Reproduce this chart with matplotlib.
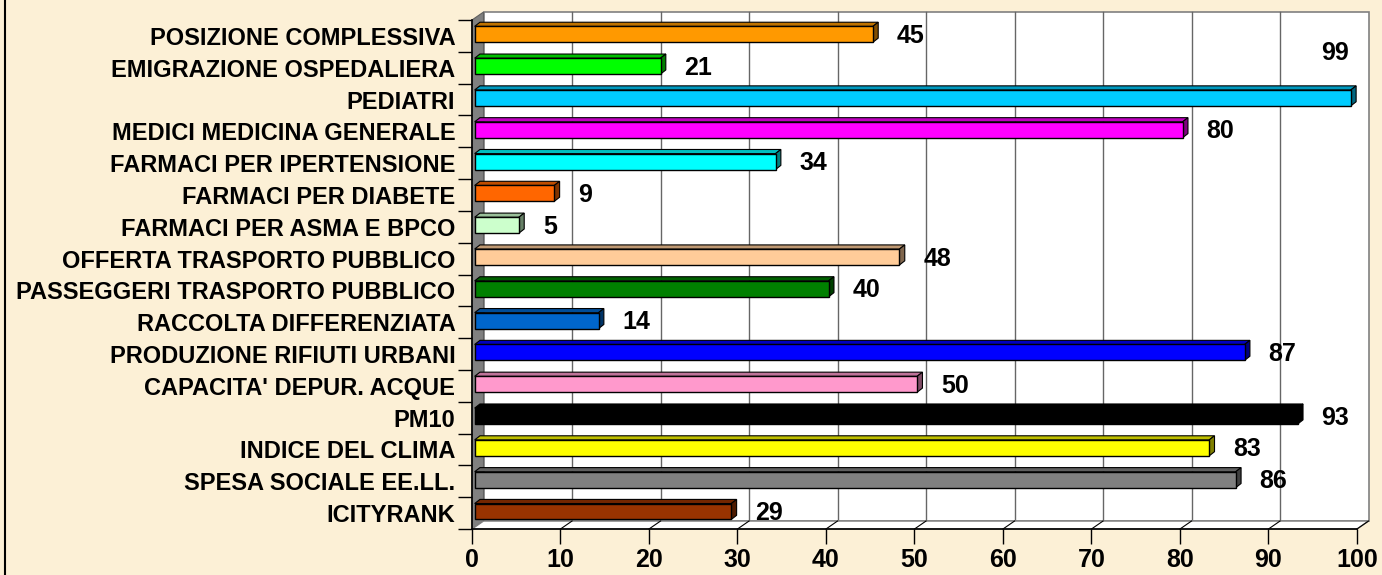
import matplotlib.pyplot as plt
from matplotlib.patches import Polygon, Rectangle
from matplotlib.colors import to_rgb

# dati (dall'alto verso il basso come nel grafico)
categories = [
    "POSIZIONE COMPLESSIVA", "EMIGRAZIONE OSPEDALIERA", "PEDIATRI",
    "MEDICI MEDICINA GENERALE", "FARMACI PER IPERTENSIONE", "FARMACI PER DIABETE",
    "FARMACI PER ASMA E BPCO", "OFFERTA TRASPORTO PUBBLICO",
    "PASSEGGERI TRASPORTO PUBBLICO", "RACCOLTA DIFFERENZIATA",
    "PRODUZIONE RIFIUTI URBANI", "CAPACITA' DEPUR. ACQUE", "PM10",
    "INDICE DEL CLIMA", "SPESA SOCIALE EE.LL.", "ICITYRANK",
]
values = [45, 21, 99, 80, 34, 9, 5, 48, 40, 14, 87, 50, 93, 83, 86, 29]
colors = [
    "#FF9900", "#00FF00", "#00CCFF", "#FF00FF", "#00FFFF", "#FF6600",
    "#CCFFCC", "#FFCC99", "#008000", "#0066CC", "#0000FF", "#FF99CC",
    "#000000", "#FFFF00", "#808080", "#993300",
]
xticks = list(range(0, 101, 10))

plt.rcParams['font.family'] = ['Liberation Sans', 'DejaVu Sans']
plt.rcParams['font.weight'] = 'bold'

fig = plt.figure(figsize=(13.82, 5.75), dpi=100)
fig.patch.set_facecolor('#FCF0D6')
ax = fig.add_axes([472 / 1382, 46 / 575, 885 / 1382, 509 / 575])
ax.set_facecolor('none')

n = len(categories)
ypos = [n - 1 - i for i in range(n)]
ax.set_xlim(0, 100)
ax.set_ylim(-0.5, n - 0.5)

# profondità 3D (in unità dati)
dx, dy = 1.3, 0.25
bdx, bdy = 0.6, 0.13
top = n - 0.5
bot = -0.5

# parete di fondo
ax.add_patch(Rectangle((dx, bot + dy), 100, n, facecolor='white',
                       edgecolor='#808080', lw=1.2, clip_on=False, zorder=0))
for t in xticks[1:-1]:
    ax.plot([t + dx, t + dx], [bot + dy, top + dy], color='#666666', lw=1,
            clip_on=False, zorder=0.5)
# parete sinistra
ax.add_patch(Polygon([(0, bot), (dx, bot + dy), (dx, top + dy), (0, top)],
                     closed=True, facecolor='#808080', edgecolor='#606060',
                     lw=0.8, clip_on=False, zorder=0.6))
# pavimento
ax.add_patch(Polygon([(0, bot), (100, bot), (100 + dx, bot + dy), (dx, bot + dy)],
                     closed=True, facecolor='white', edgecolor='#808080',
                     lw=1, clip_on=False, zorder=0.6))
for t in xticks[1:]:
    ax.plot([t, t + dx], [bot, bot + dy], color='black', lw=0.8,
            clip_on=False, zorder=0.7)


def darker(c, f):
    r, g, b = to_rgb(c)
    return (r * f, g * f, b * f)


h = 0.5
x0 = 0.3
for y, v, c in zip(ypos, values, colors):
    yb, yt = y - h / 2 + 0.05, y + h / 2 + 0.05
    xe = v + x0
    ax.add_patch(Polygon([(x0, yt), (xe, yt), (xe + bdx, yt + bdy), (x0 + bdx, yt + bdy)],
                         closed=True, facecolor=darker(c, 0.75), edgecolor='black',
                         lw=0.8, clip_on=False, zorder=3))
    ax.add_patch(Polygon([(xe, yb), (xe + bdx, yb + bdy), (xe + bdx, yt + bdy), (xe, yt)],
                         closed=True, facecolor=darker(c, 0.5), edgecolor='black',
                         lw=0.8, clip_on=False, zorder=3))
    ax.add_patch(Rectangle((x0, yb), v, yt - yb, facecolor=c, edgecolor='black',
                           lw=1, clip_on=False, zorder=4))
    lx = min(v + 3, 96)
    ly = y
    if v > 96:
        ly = y + 1.45
    ax.text(lx, ly, str(v), ha='left', va='center', fontsize=18,
            fontweight='bold', zorder=5, clip_on=False)

# assi
for s in ['top', 'right']:
    ax.spines[s].set_visible(False)
for s in ['left', 'bottom']:
    ax.spines[s].set_color('black')
    ax.spines[s].set_linewidth(1.2)
    ax.spines[s].set_zorder(2)

ax.set_xticks(xticks)
ax.set_xticklabels([str(t) for t in xticks], fontsize=18, fontweight='bold')
ax.tick_params(axis='x', length=11, width=1, pad=3)
ax.set_yticks(ypos)
ax.set_yticklabels(categories, fontsize=17, fontweight='bold')
ax.set_yticks([k - 0.5 for k in range(n + 1)], minor=True)
ax.tick_params(axis='y', which='major', length=0, pad=12)
ax.tick_params(axis='y', which='minor', length=10, width=1)

# bordo sinistro dell'immagine
fig.add_artist(plt.Line2D([4.5 / 1382, 4.5 / 1382], [0, 1], color='black', lw=1.5))

plt.savefig('out.png', dpi=100, facecolor=fig.get_facecolor())
plt.close()
